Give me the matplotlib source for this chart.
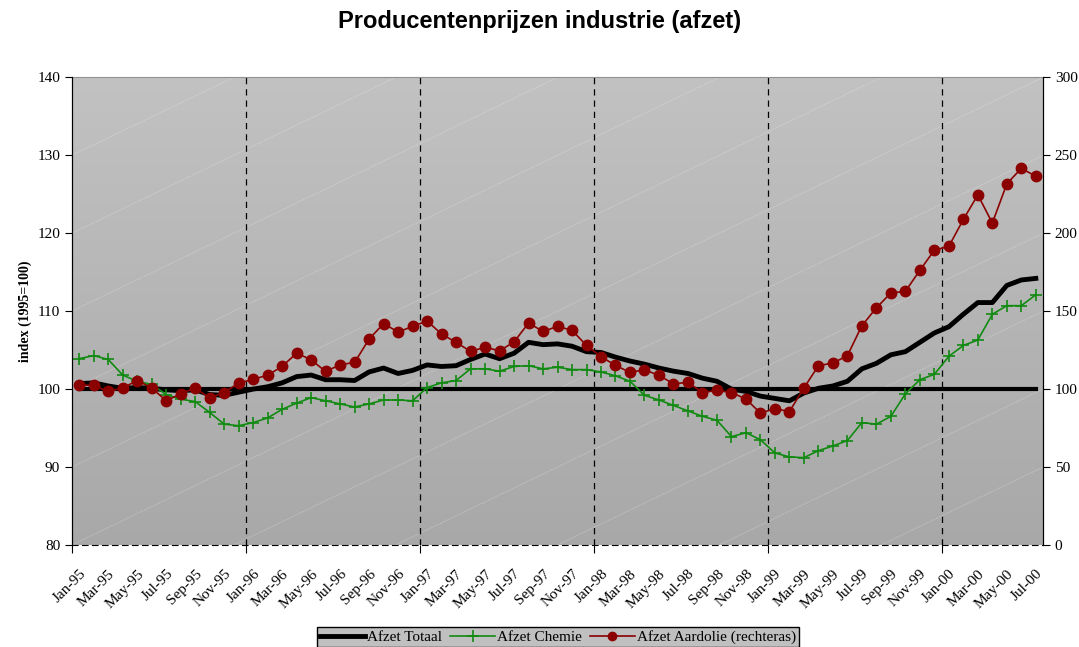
import numpy as np
import matplotlib
matplotlib.use('Agg')
import matplotlib.pyplot as plt
import matplotlib.transforms as mtransforms
from matplotlib.lines import Line2D

# monthly data Jan-95 .. Jul-00
months = ['Jan', 'Feb', 'Mar', 'Apr', 'May', 'Jun',
          'Jul', 'Aug', 'Sep', 'Oct', 'Nov', 'Dec']
years = ['95', '96', '97', '98', '99', '00']
labels = [m + '-' + y for y in years for m in months][:67]

totaal = [100.7, 100.8, 100.4, 100.1, 100.2, 100.1, 99.9, 99.8, 99.9, 99.3, 99.2, 99.6,
          100.0, 100.3, 100.8, 101.6, 101.8, 101.2, 101.2, 101.1, 102.2, 102.7, 102.0, 102.4,
          103.1, 102.9, 103.0, 103.8, 104.5, 103.9, 104.6, 106.0, 105.7, 105.8, 105.5, 104.8,
          104.7, 104.1, 103.6, 103.2, 102.7, 102.3, 102.0, 101.4, 101.0, 100.0, 99.7, 99.1,
          98.8, 98.5, 99.5, 100.1, 100.4, 101.0, 102.6, 103.3, 104.4, 104.8, 106.0, 107.2,
          108.0, 109.6, 111.1, 111.1, 113.3, 114.0, 114.2]

chemie = [103.9, 104.3, 103.8, 101.8, 101.0, 100.6, 99.3, 98.7, 98.4, 97.0, 95.5, 95.3,
          95.7, 96.3, 97.4, 98.2, 98.9, 98.5, 98.1, 97.7, 98.1, 98.6, 98.6, 98.5,
          100.2, 100.8, 101.1, 102.6, 102.6, 102.3, 102.9, 103.0, 102.6, 102.8, 102.5, 102.5,
          102.2, 101.7, 101.0, 99.2, 98.6, 97.9, 97.2, 96.5, 96.0, 93.9, 94.4, 93.5,
          91.8, 91.3, 91.2, 92.1, 92.7, 93.4, 95.7, 95.5, 96.5, 99.4, 101.2, 101.9,
          104.2, 105.6, 106.3, 109.6, 110.7, 110.7, 112.1]

aardolie = [102.8, 102.3, 98.5, 100.7, 105.5, 100.7, 92.5, 97.0, 100.7, 94.2, 97.8, 103.9,
            106.2, 109.0, 114.5, 123.1, 118.8, 111.3, 115.6, 117.1, 132.1, 142.0, 136.6, 140.2,
            143.7, 135.3, 130.0, 124.2, 126.8, 124.6, 130.2, 142.4, 137.0, 140.2, 137.7, 128.0,
            120.8, 115.2, 110.7, 112.4, 108.8, 103.4, 104.3, 97.8, 99.1, 97.8, 93.6, 84.6,
            87.4, 85.6, 100.7, 115.0, 116.7, 121.4, 140.7, 152.1, 161.7, 162.7, 176.2, 189.1,
            191.6, 208.8, 224.6, 206.5, 231.7, 241.6, 236.5]

basis = [100] * len(totaal)

x = np.arange(len(totaal))

serif = 'Liberation Serif'

fig = plt.figure(figsize=(10.79, 6.47), dpi=100)
ax = fig.add_axes([0.0667, 0.1577, 0.9, 0.7228])

# gray gradient background with faint diagonal lines
grad = np.linspace(0.76, 0.66, 256).reshape(-1, 1)
ax.imshow(np.dstack([grad] * 3), extent=[0, 1, 0, 1], transform=ax.transAxes,
          aspect='auto', zorder=0)
for k in range(-6, 7):
    c = k / 6
    ax.plot([0, 1], [c, 1 + c], transform=ax.transAxes, color='white',
            lw=0.6, alpha=0.4, ls=(0, (1, 1)), zorder=0.5, clip_on=True)

ax.plot(x, basis, color='black', lw=3, zorder=2)
ax.plot(x, totaal, color='black', lw=3.5, zorder=3)
ax.plot(x, chemie, color='#118a11', lw=1.2, marker='+', ms=9, mew=1.2, zorder=4)

ax.set_xlim(-0.5, len(x) - 0.5)
ax.set_ylim(80, 140)
ax.set_yticks(range(80, 141, 10))

for b in np.arange(11.5, len(x), 12):
    ax.axvline(b, color='black', lw=0.9, ls=(0, (5, 4)), zorder=1)

ax.set_xticks(np.arange(-0.5, len(x), 12))
ax.set_xticklabels([])
ax.set_xticks(x[::2], minor=True)
ax.set_xticklabels(labels[::2], minor=True, rotation=45, ha='right',
                   rotation_mode='anchor', fontfamily=serif, fontsize=11)
shift = mtransforms.ScaledTranslation(-0.12, 0, fig.dpi_scale_trans)
for t in ax.get_xticklabels(minor=True):
    t.set_transform(t.get_transform() + shift)
ax.tick_params(axis='x', which='major', direction='out', length=6)
ax.tick_params(axis='x', which='minor', length=0, pad=16)
ax.tick_params(axis='y', direction='out', length=5)
for t in ax.get_yticklabels():
    t.set_fontfamily(serif)
    t.set_fontsize(11)

ax.spines['bottom'].set_linestyle((0, (5, 4)))
ax.spines['top'].set_color('#909090')
ax.set_ylabel('index (1995=100)', fontfamily=serif, fontweight='bold', fontsize=10)

ax2 = ax.twinx()
ax2.plot(x, aardolie, color='#8b0000', lw=1.2, marker='o', ms=7.5, zorder=5)
ax2.set_ylim(0, 300)
ax2.set_yticks(range(0, 301, 50))
ax2.tick_params(axis='y', direction='out', length=5)
for t in ax2.get_yticklabels():
    t.set_fontfamily(serif)
    t.set_fontsize(11)
ax2.spines['top'].set_visible(False)
ax2.spines['bottom'].set_visible(False)

fig.suptitle('Producentenprijzen industrie (afzet)', fontfamily='Liberation Sans',
             fontweight='bold', fontsize=17, y=0.985)

handles = [Line2D([], [], color='black', lw=3.5),
           Line2D([], [], color='#118a11', lw=1.2, marker='+', ms=9, mew=1.2),
           Line2D([], [], color='#8b0000', lw=1.2, marker='o', ms=6)]
leg = fig.legend(handles, ['Afzet Totaal', 'Afzet Chemie', 'Afzet Aardolie (rechteras)'],
                 loc='lower center', bbox_to_anchor=(0.517, -0.012), ncol=3,
                 frameon=True, fancybox=False, handlelength=3.0, handletextpad=0.1,
                 columnspacing=0.5, borderpad=0.2, prop={'family': serif, 'size': 11})
leg.get_frame().set_facecolor('#c0c0c0')
leg.get_frame().set_edgecolor('black')
leg.get_frame().set_alpha(1)

fig.savefig('out.png', dpi=100)
